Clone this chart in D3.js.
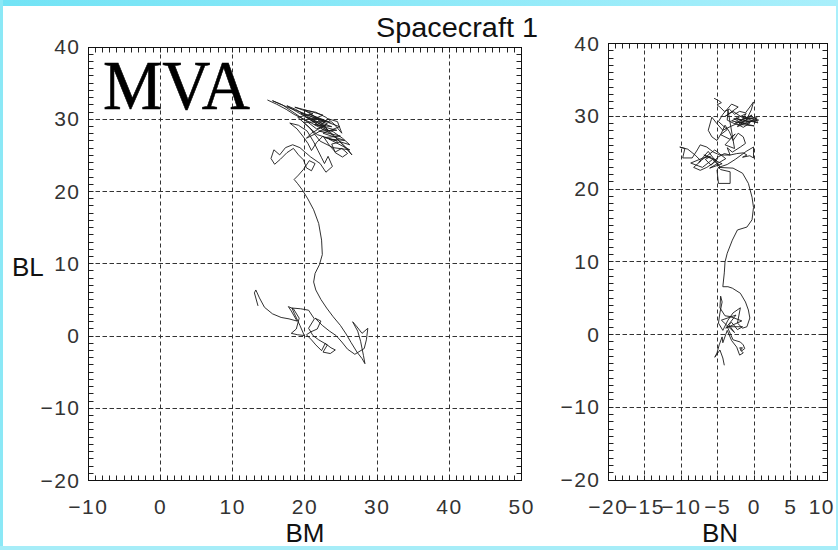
<!DOCTYPE html>
<html>
<head>
<meta charset="utf-8">
<script src="https://cdn.jsdelivr.net/npm/d3@7"></script>
<style>
  html, body { margin: 0; padding: 0; background: #fff; }
  svg { display: block; }
</style>
</head>
<body>
<svg id="chart" width="838" height="550"></svg>
<script>
// Magnetic field hodograms in minimum-variance (MVA) coordinates, spacecraft 1.

// Tick values
const blTicks = [-20, -10, 0, 10, 20, 30, 40];
const bmTicks = [-10, 0, 10, 20, 30, 40, 50];
const bnTicks = [-20, -15, -10, -5, 0, 5, 10];

// BM vs BL trace (nT)
const traceBM = [
  [14.9,32.6],[16.2,32.0],[17.5,31.3],[18.6,30.6],[19.8,30.0],[21.0,29.4],[22.3,28.7],[23.6,28.0],
  [24.8,27.0],[26.0,25.8],[26.6,25.0],[25.4,26.3],[24.2,27.6],[23.0,28.7],[21.6,29.6],[20.2,30.5],
  [18.8,31.3],[17.6,31.8],[18.9,31.0],[20.5,30.1],[22.0,29.1],[23.4,28.3],[22.4,29.4],[21.3,30.4],
  [20.0,31.2],[21.6,30.9],[23.0,30.2],[24.1,29.3],[25.2,28.0],[24.6,29.6],[23.3,30.0],[22.1,29.0],
  [19.5,30.8],[22.5,29.8],[20.2,30.2],[23.8,28.9],[21.4,29.2],[24.5,28.4],[22.0,28.3],[25.0,27.6],
  [22.8,27.4],[24.6,26.9],[21.8,27.8],[19.9,29.5],[22.9,29.6],[20.8,30.6],[23.6,29.5],[21.9,30.0],
  [24.9,28.9],[22.6,28.0],[25.6,27.0],[23.4,27.2],[26.3,25.7],[24.0,26.0],[22.2,26.9],[20.7,28.8],
  [19.1,30.2],[21.2,30.7],[18.7,31.6],[20.6,31.1],[22.6,30.5],[20.9,29.8],[23.0,29.0],[21.7,28.6],
  [20.4,29.6],[17.0,31.9],[15.6,32.5],[17.9,31.5],[20.1,30.7],[23.2,29.3],[21.0,28.0],[20.3,27.3],
  [21.5,27.9],[22.7,28.6],[24.0,28.2],[25.3,27.3],[26.3,26.4],[25.0,26.8],[23.8,26.5],[24.3,25.3],
  [25.3,24.7],[26.0,25.2],[25.2,25.9],[24.3,25.4],[23.5,26.3],[22.6,27.6],[21.7,26.7],[21.0,25.6],
  [20.5,26.6],[19.8,27.6],[19.0,28.6],[18.0,29.4],[19.2,29.1],[20.4,28.3],[21.3,26.8],[21.9,25.6],
  [22.4,24.6],[22.8,23.8],[23.3,24.8],[23.9,23.4],[23.0,22.6],[22.2,23.8],[20.9,24.7],[20.2,25.3],
  [19.4,26.0],[18.4,26.4],[17.4,26.0],[16.6,25.0],[15.8,25.7],[15.4,24.5],[15.9,23.7],[16.7,24.4],
  [17.6,25.3],[18.5,25.9],[19.2,25.0],[19.9,24.3],[20.3,23.2],[21.0,22.8],[21.5,23.8],[20.7,24.2],
  [19.9,23.0],[19.2,22.2],[18.6,21.6],[19.1,21.0],[19.7,20.2],[20.5,18.9],[21.3,17.4],[22.0,15.5],
  [22.4,13.2],[22.5,11.2],[22.1,9.8],[21.5,8.6],[21.3,7.4],[21.6,6.3],[22.3,5.0],[23.1,3.8],
  [24.0,2.6],[25.0,1.4],[25.8,0.2],[26.5,-1.0],[27.3,-2.3],[28.0,-3.2],[28.4,-3.9],[28.2,-2.8],
  [27.8,-0.8],[27.4,0.6],[26.7,1.9],[27.3,1.2],[28.0,0.3],[28.8,1.0],[28.6,-0.6],[28.3,-1.8],
  [27.0,-2.6],[26.0,-1.9],[25.2,-0.9],[24.4,0.0],[23.5,0.6],[22.5,1.4],[21.5,2.4],[22.3,2.0],
  [21.8,0.9],[20.9,0.5],[20.3,0.1],[21.0,-0.6],[21.6,-1.3],[22.4,-2.1],[22.9,-1.1],[23.7,-1.7],
  [24.3,-2.0],[23.6,-2.5],[22.6,-2.3],[23.2,-1.3],[22.0,-0.6],[21.2,0.0],[20.6,1.0],[21.4,2.3],
  [20.6,3.5],[19.5,3.7],[18.3,3.8],[18.6,3.1],[19.4,1.4],[20.0,0.0],[19.1,0.1],[18.2,0.3],
  [18.9,0.9],[19.3,2.4],[18.5,3.7],[17.8,4.0],[18.2,3.4],[19.0,2.0],[17.9,2.3],[16.8,2.5],
  [15.6,3.0],[14.5,3.9],[13.8,5.2],[13.3,6.3],[13.1,5.9],[13.6,4.1]
];

// BN vs BL trace (nT)
const traceBN = [
  [-5.4,32.4],[-4.8,32.1],[-4.4,31.8],[-5.0,31.5],[-4.6,31.2],[-4.0,30.6],[-3.3,30.9],[-2.6,30.2],
  [-1.9,30.6],[-1.1,30.4],[-0.5,31.2],[0.0,31.9],[-0.3,30.8],[-0.8,29.8],[-1.6,29.4],[-2.4,29.7],
  [-1.5,29.2],[-0.6,29.6],[0.2,29.8],[0.6,29.0],[-0.1,29.3],[-0.9,28.9],[-1.8,29.1],[-2.7,29.6],
  [-2.0,29.5],[0.4,29.1],[-1.5,29.9],[0.7,29.4],[-2.5,29.0],[-0.2,30.1],[-1.8,28.8],[0.1,28.6],
  [-3.0,29.3],[-1.0,30.3],[-2.2,28.5],[0.5,29.7],[-1.3,29.6],[-2.8,30.6],[-3.9,29.9],[-2.1,31.2],
  [-3.0,31.6],[-4.2,30.2],[-4.8,29.2],[-3.6,28.1],[-4.5,27.4],[-3.3,26.8],[-2.5,27.5],[-3.9,26.0],
  [-2.6,25.5],[-3.5,30.8],[-3.6,29.4],[-2.8,29.0],[-2.0,28.7],[-1.2,29.4],[-0.5,29.0],[-1.4,28.4],
  [-2.3,28.9],[-3.2,28.5],[-4.2,28.0],[-5.0,28.9],[-5.7,29.8],[-6.2,28.0],[-5.7,27.1],[-5.0,26.6],
  [-4.4,27.6],[-3.9,28.7],[-3.3,27.8],[-2.8,26.6],[-2.1,27.6],[-1.4,27.1],[-1.1,26.2],[-1.8,25.7],
  [-2.9,25.0],[-3.6,25.6],[-3.2,24.6],[-4.6,24.6],[-5.5,25.0],[-6.4,25.7],[-7.3,26.0],[-7.7,25.3],
  [-8.4,24.2],[-9.7,24.2],[-9.4,25.5],[-10.1,25.7],[-9.0,25.4],[-8.0,24.6],[-7.2,23.8],[-8.2,22.9],
  [-7.3,22.5],[-6.4,22.9],[-5.5,23.5],[-5.0,23.9],[-6.8,24.6],[-4.3,23.4],[-6.0,22.8],[-3.8,24.1],
  [-5.3,25.3],[-7.5,23.6],[-6.2,25.1],[-4.6,23.0],[-5.6,24.0],[-7.0,22.9],[-8.6,23.5],[-6.9,24.2],
  [-5.9,24.4],[-6.6,24.0],[-5.8,23.2],[-4.9,24.3],[-4.0,24.8],[-3.2,24.6],[-2.3,24.8],[-1.4,24.9],
  [-0.9,24.6],[-1.5,24.3],[-0.5,24.5],[0.0,24.2],[0.0,25.0],[0.0,25.7],[-1.0,25.1],[-2.5,24.0],
  [-3.6,23.3],[-4.8,22.9],[-5.0,22.5],[-4.8,20.7],[-3.2,20.7],[-3.2,22.3],[-4.5,22.6],[-4.8,22.9],
  [-2.8,22.8],[-1.5,22.1],[-0.7,20.7],[-0.2,18.8],[0.0,17.4],[-0.2,15.7],[-0.9,14.7],[-2.2,14.3],
  [-2.9,12.9],[-3.6,11.1],[-3.9,9.9],[-4.0,8.4],[-4.2,6.5],[-3.5,6.5],[-2.9,6.3],[-1.8,5.6],
  [-1.1,4.4],[-0.7,3.3],[-0.5,2.2],[-0.9,1.0],[-1.5,0.8],[-2.2,1.5],[-1.8,3.6],[-2.8,2.9],
  [-3.5,1.9],[-4.2,0.5],[-4.8,1.5],[-4.6,2.9],[-4.3,4.4],[-4.5,5.2],[-4.6,3.6],[-3.9,2.5],
  [-3.2,2.4],[-1.6,1.8],[-3.8,0.8],[-2.4,2.6],[-4.4,1.9],[-2.6,0.2],[-3.4,1.3],[-3.0,1.6],
  [-2.2,0.6],[-1.5,1.0],[-2.8,1.0],[-3.6,1.0],[-3.2,0.1],[-2.8,-0.8],[-1.8,-1.1],[-1.4,-1.5],
  [-1.2,-2.0],[-1.6,-2.3],[-1.9,-1.9],[-1.5,-1.9],[-1.8,-2.2],[-1.4,-2.6],[-1.9,-2.9],[-2.3,-1.8],
  [-3.0,-0.9],[-3.6,0.5],[-4.2,-1.2],[-4.3,-0.4],[-4.7,-1.5],[-5.0,-2.6],[-5.3,-3.2],[-4.6,-2.2],
  [-4.2,-3.3],[-4.0,-4.3]
];

const svg = d3.select("#chart");
const W = 838, H = 550;

// page frame
const defs = svg.append("defs");
const grad = defs.append("linearGradient").attr("id", "frameTop").attr("x1", 0).attr("x2", 1);
grad.append("stop").attr("offset", 0).attr("stop-color", "#72e3f5");
grad.append("stop").attr("offset", 1).attr("stop-color", "#a9effb");
svg.append("rect").attr("width", W).attr("height", H).attr("fill", "#fff");
svg.append("rect").attr("x", 0).attr("y", 0).attr("width", W).attr("height", 6).attr("fill", "url(#frameTop)");
svg.append("rect").attr("x", 0).attr("y", 0).attr("width", 3).attr("height", H).attr("fill", "#8be8f6");
svg.append("rect").attr("x", W - 2).attr("y", 0).attr("width", 2).attr("height", H).attr("fill", "#a9effb");
svg.append("rect").attr("x", 0).attr("y", H - 4).attr("width", W).attr("height", 4).attr("fill", "#a6edf8");

const fontSans = "'Liberation Sans', Arial, Helvetica, sans-serif";

function panel(opts) {
  const { xDomain, xRange, yDomain, yRange, xMajor, xMinor, yMajor, yMinor, trace, id } = opts;
  const x = d3.scaleLinear().domain(xDomain).range(xRange);
  const y = d3.scaleLinear().domain(yDomain).range(yRange);
  const g = svg.append("g");
  const px = v => Math.round(x(v)) + 0.5;
  const py = v => Math.round(y(v)) + 0.5;
  const x0 = px(xDomain[0]), x1 = px(xDomain[1]);
  const y0 = py(yDomain[0]), y1 = py(yDomain[1]);

  // dashed grid at major ticks
  g.append("g").selectAll("line").data(xMajor.filter(v => v > xDomain[0] && v < xDomain[1]))
    .join("line")
    .attr("x1", d => px(d)).attr("x2", d => px(d)).attr("y1", y1).attr("y2", y0)
    .attr("stroke", "#333").attr("stroke-width", 1).attr("stroke-dasharray", "4,3");
  g.append("g").selectAll("line").data(yMajor.filter(v => v > yDomain[0] && v < yDomain[1]))
    .join("line")
    .attr("y1", d => py(d)).attr("y2", d => py(d)).attr("x1", x0).attr("x2", x1)
    .attr("stroke", "#333").attr("stroke-width", 1).attr("stroke-dasharray", "4.5,2.5");

  // minor ticks on all four sides, pointing inward
  const tl = 5;
  const xm = d3.range(xDomain[0], xDomain[1] + 1e-9, xMinor);
  const ym = d3.range(yDomain[0], yDomain[1] + 1e-9, yMinor);
  const tg = g.append("g").attr("stroke", "#222").attr("stroke-width", 1);
  xm.forEach(v => {
    tg.append("line").attr("x1", px(v)).attr("x2", px(v)).attr("y1", y0).attr("y2", y0 - tl);
    tg.append("line").attr("x1", px(v)).attr("x2", px(v)).attr("y1", y1).attr("y2", y1 + tl);
  });
  ym.forEach(v => {
    tg.append("line").attr("y1", py(v)).attr("y2", py(v)).attr("x1", x0).attr("x2", x0 + tl);
    tg.append("line").attr("y1", py(v)).attr("y2", py(v)).attr("x1", x1).attr("x2", x1 - tl);
  });

  // frame
  g.append("rect").attr("x", x0).attr("y", y1).attr("width", x1 - x0).attr("height", y0 - y1)
    .attr("fill", "none").attr("stroke", "#111").attr("stroke-width", 1);

  // tick labels
  const fmt = v => (v < 0 ? "\u2212" + Math.abs(v) : String(v));
  const xl = g.append("g").selectAll("text").data(xMajor).join("text")
    .attr("x", d => x(d) + 0.75).attr("y", 514)
    .attr("text-anchor", "middle")
    .attr("font-family", fontSans).attr("font-size", 21).attr("letter-spacing", 1.5)
    .attr("fill", "#333")
    .text(fmt);
  // keep edge labels inside the page frame
  xl.each(function () {
    const b = this.getBBox();
    const over = b.x + b.width - (W - 3);
    if (over > 0) d3.select(this).attr("x", +d3.select(this).attr("x") - over);
  });
  g.append("g").selectAll("text").data(yMajor).join("text")
    .attr("x", x0 - 8).attr("y", d => y(d) + 7.5)
    .attr("text-anchor", "end")
    .attr("font-family", fontSans).attr("font-size", 21).attr("letter-spacing", 1.5)
    .attr("fill", "#333")
    .text(fmt);

  // trace
  defs.append("clipPath").attr("id", id).append("rect")
    .attr("x", x0).attr("y", y1).attr("width", x1 - x0).attr("height", y0 - y1);
  const line = d3.line().x(d => x(d[0])).y(d => y(d[1])).curve(d3.curveLinear);
  g.append("path").datum(trace)
    .attr("clip-path", `url(#${id})`)
    .attr("d", line)
    .attr("fill", "none").attr("stroke", "#1a1a1a").attr("stroke-width", 0.9)
    .attr("stroke-linejoin", "round");
  return { x, y };
}

panel({
  id: "clipM",
  xDomain: [-10, 50], xRange: [87.5, 521],
  yDomain: [-20, 40], yRange: [480, 46.5],
  xMajor: bmTicks, xMinor: 1, yMajor: blTicks, yMinor: 1,
  trace: traceBM
});

panel({
  id: "clipN",
  xDomain: [-20, 10], xRange: [607.5, 826.5],
  yDomain: [-20, 40], yRange: [479.5, 43],
  xMajor: bnTicks, xMinor: 1, yMajor: blTicks, yMinor: 1,
  trace: traceBN
});

// titles
svg.append("text").attr("x", 457).attr("y", 37).attr("text-anchor", "middle")
  .attr("font-family", fontSans).attr("font-size", 27).attr("fill", "#111")
  .attr("textLength", 162).attr("lengthAdjust", "spacingAndGlyphs")
  .text("Spacecraft 1");

svg.append("text").attr("x", 103).attr("y", 109)
  .attr("font-family", "'Liberation Serif', 'Times New Roman', serif").attr("font-size", 69)
  .attr("textLength", 147).attr("lengthAdjust", "spacingAndGlyphs")
  .attr("fill", "#000").attr("stroke", "#000").attr("stroke-width", 0.6)
  .text("MVA");

svg.append("text").attr("x", 305).attr("y", 542).attr("text-anchor", "middle")
  .attr("font-family", fontSans).attr("font-size", 26).attr("fill", "#111").text("BM");
svg.append("text").attr("x", 720).attr("y", 542).attr("text-anchor", "middle")
  .attr("font-family", fontSans).attr("font-size", 26).attr("fill", "#111").text("BN");
svg.append("text").attr("x", 12).attr("y", 276)
  .attr("font-family", fontSans).attr("font-size", 26).attr("fill", "#111").text("BL");
</script>
</body>
</html>
